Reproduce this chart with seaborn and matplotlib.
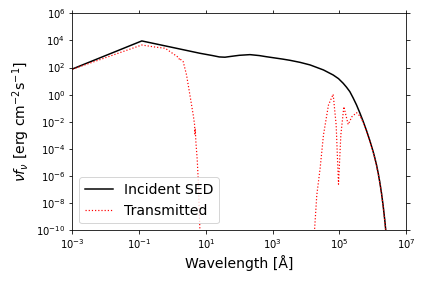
import numpy as np
import pandas as pd
import matplotlib
matplotlib.use("Agg")
import matplotlib.pyplot as plt
import seaborn as sns

# log10 wavelength [A] and log10 nu f_nu
inc_logw = [-3.0, -0.92, 0.0, 0.82, 1.2, 1.4, 1.57, 1.75, 2.0, 2.32, 2.6, 2.8, 3.3, 3.52, 3.82,
            4.12, 4.52, 4.81, 4.97, 5.11, 5.21, 5.31, 5.41, 5.51, 5.61, 5.71, 5.81, 5.91, 6.01,
            6.06, 6.11, 6.16, 6.21, 6.26, 6.31, 6.36, 6.42]
inc_logf = [1.89, 3.96, 3.48, 3.05, 2.88, 2.78, 2.76, 2.82, 2.9, 2.95, 2.88, 2.8, 2.62, 2.53, 2.38,
            2.19, 1.82, 1.45, 1.18, 0.84, 0.55, 0.22, -0.25, -0.76, -1.35, -1.98, -2.66, -3.4, -4.22,
            -4.68, -5.2, -5.8, -6.5, -7.3, -8.25, -9.35, -10.9]

tr_logw = [-3.0, -0.92, -0.5, -0.22, 0.075, 0.19, 0.21, 0.23, 0.32, 0.42, 0.52, 0.62, 0.66,
           0.67, 0.68, 0.70, 0.74, 0.77, 0.82, 0.85,
           np.nan,
           4.2, 4.32, 4.42, 4.52, 4.67, 4.81, 4.9, 4.97, 5.04, 5.13, 5.26, 5.37, 5.51, 5.62, 5.71,
           5.81, 5.91, 6.01, 6.06, 6.11, 6.16, 6.21, 6.26, 6.31, 6.36, 6.42]
tr_logf = [1.87, 3.66, 3.5, 3.42, 2.92, 2.72, 2.55, 2.62, 2.43, 1.45, -0.02, -1.5, -2.2,
           -2.9, -2.5, -3.5, -4.8, -6.3, -10.0, -12.0,
           np.nan,
           -12.0, -7.4, -5.43, -2.97, -0.76, 0.03, -2.24, -6.6, -2.97, -0.89, -2.2, -1.63, -1.33, -1.6, -2.05,
           -2.72, -3.45, -4.27, -4.73, -5.25, -5.85, -6.55, -7.35, -8.3, -9.4, -11.0]

incident = pd.DataFrame({"wave": 10.0 ** np.array(inc_logw), "flux": 10.0 ** np.array(inc_logf)})
transmitted = pd.DataFrame({"wave": 10.0 ** np.array(tr_logw), "flux": 10.0 ** np.array(tr_logf)})

fig = plt.figure(figsize=(423 / 72, 282 / 72), dpi=72)
ax = fig.add_axes([0.171, 0.1833, 0.7895, 0.7697])

# split transmitted into its two pieces (nan gap)
gap = transmitted["wave"].isna()
idx = np.where(gap)[0][0]
part1 = transmitted.iloc[:idx]
part2 = transmitted.iloc[idx + 1:]

sns.lineplot(data=incident, x="wave", y="flux", color="black", linewidth=1.5,
             sort=False, estimator=None, ax=ax, label="Incident SED")
sns.lineplot(data=part1, x="wave", y="flux", color="red", linewidth=1.2, linestyle=":",
             sort=False, estimator=None, ax=ax, label="Transmitted")
sns.lineplot(data=part2, x="wave", y="flux", color="red", linewidth=1.2, linestyle=":",
             sort=False, estimator=None, ax=ax)

ax.set_xscale("log")
ax.set_yscale("log")
ax.set_xlim(1e-3, 1e7)
ax.set_ylim(1e-10, 1e6)
ax.set_xticks([1e-3, 1e-1, 1e1, 1e3, 1e5, 1e7])
ax.set_yticks([1e-10, 1e-8, 1e-6, 1e-4, 1e-2, 1e0, 1e2, 1e4, 1e6])
ax.minorticks_off()
ax.tick_params(top=True, right=True, labelsize=10)
ax.set_xlabel("Wavelength [Å]", fontsize=14)
ax.set_ylabel(r"$\nu f_\nu$ [erg cm$^{-2}$s$^{-1}$]", fontsize=14)
ax.legend(loc="lower left", fontsize=14)

fig.savefig("out.png", dpi=72)
